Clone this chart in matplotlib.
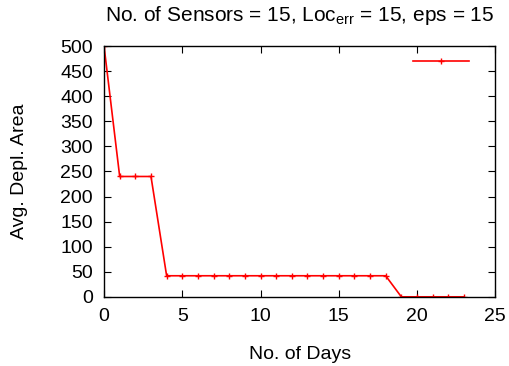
import matplotlib
matplotlib.use("Agg")
import matplotlib.pyplot as plt

plt.rcParams['font.family'] = ['Liberation Sans', 'DejaVu Sans']
plt.rcParams['mathtext.fontset'] = 'custom'
plt.rcParams['mathtext.rm'] = 'Liberation Sans'
plt.rcParams['mathtext.it'] = 'Liberation Sans'

# données
jours = list(range(24))
surface = [500, 240, 240, 240] + [42] * 15 + [0] * 5
xticks = [0, 5, 10, 15, 20, 25]
yticks = list(range(0, 501, 50))

fig = plt.figure(figsize=(5.1, 3.66), dpi=100)
ax = fig.add_axes([0.204, 0.189, 0.767, 0.685])

ligne, = ax.plot(jours, surface, color='red', linewidth=1.2, marker='+', markersize=5,
                 markeredgewidth=1)
ax.set_xlim(0, 25)
ax.set_ylim(0, 500)
ax.set_xticks(xticks)
ax.set_yticks(yticks)
ax.tick_params(direction='in', top=True, right=True, labelsize=14, length=5)
ax.tick_params(axis='x', pad=8)
ax.tick_params(axis='y', pad=8)
for s in ax.spines.values():
    s.set_linewidth(1)

ax.set_xlabel('No. of Days', fontsize=14, labelpad=15)
ax.set_ylabel('Avg. Depl. Area', fontsize=14, labelpad=23)
ax.set_title(r'No. of Sensors = 15, Loc$_{\rm err}$ = 15, eps = 15', fontsize=15, pad=18)

ax.legend([ligne], [''], loc='center right', bbox_to_anchor=(0.933, 0.933),
          frameon=False, handlelength=2.9, handletextpad=0, borderpad=0,
          borderaxespad=0, fontsize=14)

fig.savefig('out.png', dpi=100)
